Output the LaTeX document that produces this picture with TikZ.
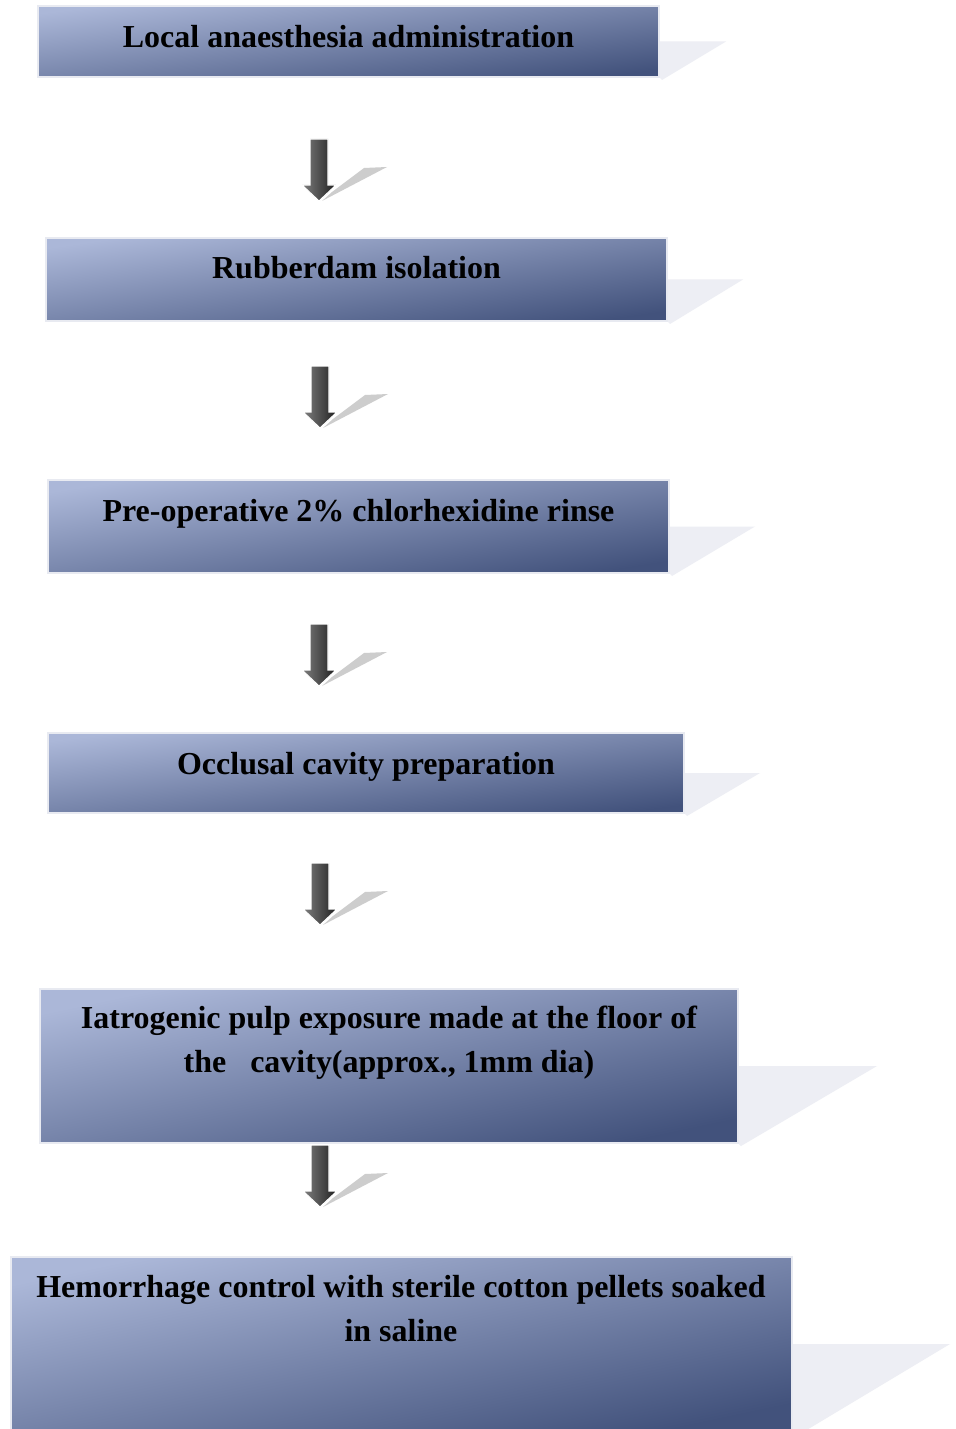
\documentclass[tikz,border=0pt]{standalone}
\usepackage{fontspec}
\setmainfont{Liberation Serif}
\usetikzlibrary{calc,backgrounds}

\definecolor{boxlight}{HTML}{ABB7D8}
\definecolor{boxdark}{HTML}{42527C}
\definecolor{boxrim}{HTML}{E8EAF1}
\definecolor{shadowgrey}{HTML}{EDEEF4}
\definecolor{arrowshadow}{HTML}{CDCDCD}

\tikzstyle{stepbox} = [rectangle, inner sep=0pt, outer sep=0pt, draw=boxrim, line width=1.2pt, shading=axis, top color=boxlight, bottom color=boxdark, shading angle=8]
\tikzstyle{steptext} = [anchor=base, align=center, font=\fontsize{18.2}{24.5}\selectfont\bfseries, inner sep=0pt]
\tikzstyle{boxshadow} = [fill=shadowgrey, draw=none]

\tikzset{
	downarrow/.pic={
		\fill[arrowshadow] (3,62) -- (13,53) -- (45,29) -- (68,28) -- cycle;
		\shade[left color=black!50, right color=black!88, draw=white, line width=0.6pt]
			(-9,0) -- (9,0) -- (9,46) -- (17,46) -- (0,62) -- (-17,46) -- (-9,46) -- cycle;
	}
}

\begin{document}
\begin{tikzpicture}[x=0.02cm, y=-0.02cm]
	
	\def \u {0.02cm}
	\clip (0,0) rectangle (956,1429);
	
	\node (b1) [stepbox, minimum width=621*\u, minimum height=71*\u, shading angle=7] at (348.5,41.5) {};
	\node (b2) [stepbox, minimum width=621*\u, minimum height=83*\u, shading angle=8] at (356.5,279.5) {};
	\node (b3) [stepbox, minimum width=621*\u, minimum height=93*\u, shading angle=9] at (358.5,526.5) {};
	\node (b4) [stepbox, minimum width=636*\u, minimum height=80*\u, shading angle=7] at (366,773) {};
	\node (b5) [stepbox, minimum width=698*\u, minimum height=154*\u, shading angle=12] at (389,1066) {};
	\node (b6) [stepbox, minimum width=781*\u, minimum height=174*\u, shading angle=12] at (401.5,1344) {};
	
	%shadows
	\begin{scope}[on background layer]
	\fill[white] (0,0) rectangle (956,1429);
	\fill[boxshadow] (b1.east) -- ++(67,0) -- ($(b1.south east)+(3,3)$) -- (b1.south east) -- cycle;
	\fill[boxshadow] (b2.east) -- ++(76,0) -- ($(b2.south east)+(3,3)$) -- (b2.south east) -- cycle;
	\fill[boxshadow] (b3.east) -- ++(86,0) -- ($(b3.south east)+(3,3)$) -- (b3.south east) -- cycle;
	\fill[boxshadow] (b4.east) -- ++(76,0) -- ($(b4.south east)+(3,3)$) -- (b4.south east) -- cycle;
	\fill[boxshadow] (b5.east) -- ++(139,0) -- ($(b5.south east)+(3,3)$) -- (b5.south east) -- cycle;
	\fill[boxshadow] (b6.east) -- ++(158,0) -- ($(b6.south east)+(8,3)$) -- (b6.south east) -- cycle;
	\end{scope}
	
	%texts
	\node (t1) [steptext] at (348.5,47.5) {Local anaesthesia administration};
	\node (t2) [steptext] at (356.5,278.5) {Rubberdam isolation};
	\node (t3) [steptext] at (358.5,521.5) {Pre-operative 2\% chlorhexidine rinse};
	\node (t4) [steptext] at (366,774.5) {Occlusal cavity preparation};
	\node (t5) [steptext] at (389,1072) {Iatrogenic pulp exposure made at the floor of\\the\ \ \ cavity(approx., 1mm dia)};
	\node (t6) [steptext] at (401,1341) {Hemorrhage control with sterile cotton pellets soaked\\in saline};
	
	%arrows
	\coordinate (a1) at (319,139);
	\coordinate (a2) at (320,366);
	\coordinate (a3) at (319,624);
	\coordinate (a4) at (320,863);
	\coordinate (a5) at (320,1145);
	\foreach \a in {a1,a2,a3,a4,a5}
		\pic at (\a) {downarrow};
	
\end{tikzpicture}
\end{document}
